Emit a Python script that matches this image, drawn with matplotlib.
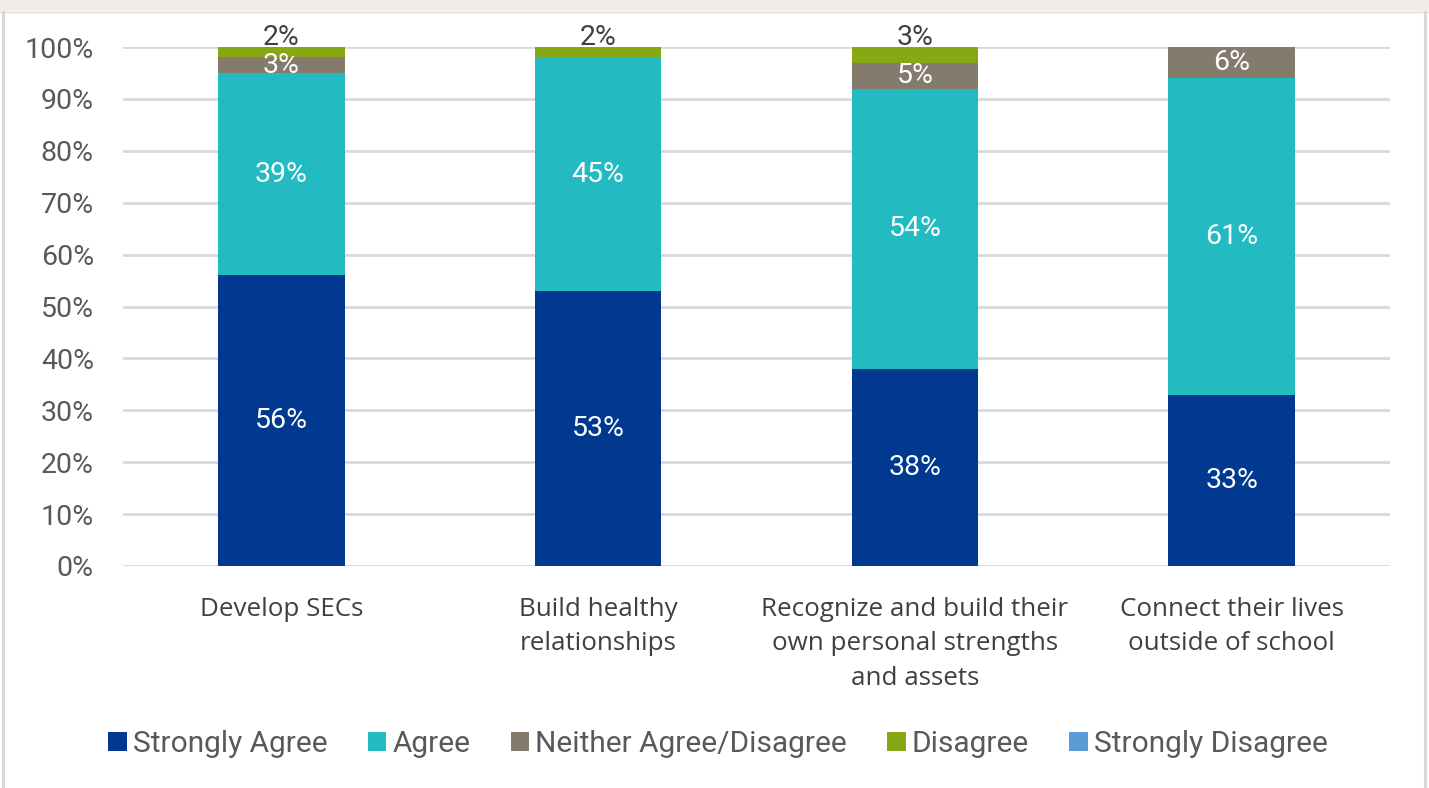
import matplotlib
matplotlib.use("Agg")
import matplotlib.pyplot as plt
from matplotlib.patches import Rectangle
import numpy as np

categories = ["Develop SECs", "Build healthy\nrelationships",
              "Recognize and build their\nown personal strengths\nand assets",
              "Connect their lives\noutside of school"]
series_names = ["Strongly Agree", "Agree", "Neither Agree/Disagree", "Disagree", "Strongly Disagree"]
strongly_agree = [56, 53, 38, 33]
agree = [39, 45, 54, 61]
neither = [3, 0, 5, 6]
disagree = [2, 2, 3, 0]
strongly_disagree = [0, 0, 0, 0]
yticks = [0, 10, 20, 30, 40, 50, 60, 70, 80, 90, 100]

colors = ["#00398F", "#23BBC1", "#857B6D", "#86A812", "#5B9BD5"]
series = [strongly_agree, agree, neither, disagree, strongly_disagree]

fig = plt.figure(figsize=(14.29, 7.88), dpi=100)
fig.patch.set_facecolor("white")

# frame decorations
fig.add_artist(Rectangle((0, 1 - 11/788), 1, 11/788, transform=fig.transFigure,
                         facecolor="#F1EEEA", edgecolor="none"))
fig.add_artist(plt.Line2D([0, 1], [1 - 11.5/788, 1 - 11.5/788], transform=fig.transFigure,
                          color="#DDDAD5", lw=1))
fig.add_artist(plt.Line2D([2.5/1429, 2.5/1429], [0, 1 - 12/788], transform=fig.transFigure,
                          color="#D9D9D9", lw=2.2))
fig.add_artist(plt.Line2D([1425/1429, 1425/1429], [0, 1 - 12/788], transform=fig.transFigure,
                          color="#D9D9D9", lw=2.2))

W, H = 1429, 788
x0, x1 = 123, 1390
y_top, y_bot = 47, 566
ax = fig.add_axes([x0 / W, 1 - y_bot / H, (x1 - x0) / W, (y_bot - y_top) / H])
ax.set_facecolor("none")

x = np.arange(len(categories))
bw = 0.40
lab_fs = 20.5
bottom = np.zeros(len(categories))
for name, vals, c in zip(series_names, series, colors):
    vals = np.array(vals, dtype=float)
    ax.bar(x, vals, bw, bottom=bottom, color=c, label=name, zorder=3, linewidth=0)
    for i, v in enumerate(vals):
        if v <= 0:
            continue
        if name == "Disagree":
            ax.text(x[i], bottom[i] + v + 1.8, f"{int(v)}%", ha="center", va="center",
                    color="#404040", fontsize=lab_fs, family="Roboto", zorder=5)
        else:
            ax.text(x[i], bottom[i] + v / 2, f"{int(v)}%", ha="center", va="center",
                    color="white", fontsize=lab_fs, family="Roboto", zorder=5)
    bottom += vals

# thin light line at the bar base
ax.bar(x, 0.35, bw, bottom=-0.45, color="#7FA6D6", zorder=4, linewidth=0)

ax.set_xlim(-0.5, 3.5)
ax.set_ylim(0, 100)
ax.set_yticks(yticks)
ax.set_yticklabels([f"{t}%" for t in yticks], family="Roboto", fontsize=20.5, color="#595959")
ax.yaxis.grid(True, color="#D9D9D9", lw=2, zorder=0)
ax.set_axisbelow(True)
for s in ax.spines.values():
    s.set_visible(False)
ax.tick_params(axis="y", length=0, pad=21)
ax.tick_params(axis="x", length=0, pad=22)
ax.set_xticks(x)
ax.set_xticklabels(categories, family="Open Sans", fontsize=18.7, color="#404040",
                   linespacing=1.52)

handles, labels = ax.get_legend_handles_labels()
leg = fig.legend(handles, labels, loc="center", bbox_to_anchor=(718 / W, 1 - 744 / H),
                 ncol=5, frameon=False, handlelength=0.62, handleheight=0.62,
                 handletextpad=0.2, columnspacing=1.35,
                 prop={"family": "Roboto", "size": 21.5})
for t in leg.get_texts():
    t.set_color("#595959")

fig.savefig("out.png", dpi=100)
